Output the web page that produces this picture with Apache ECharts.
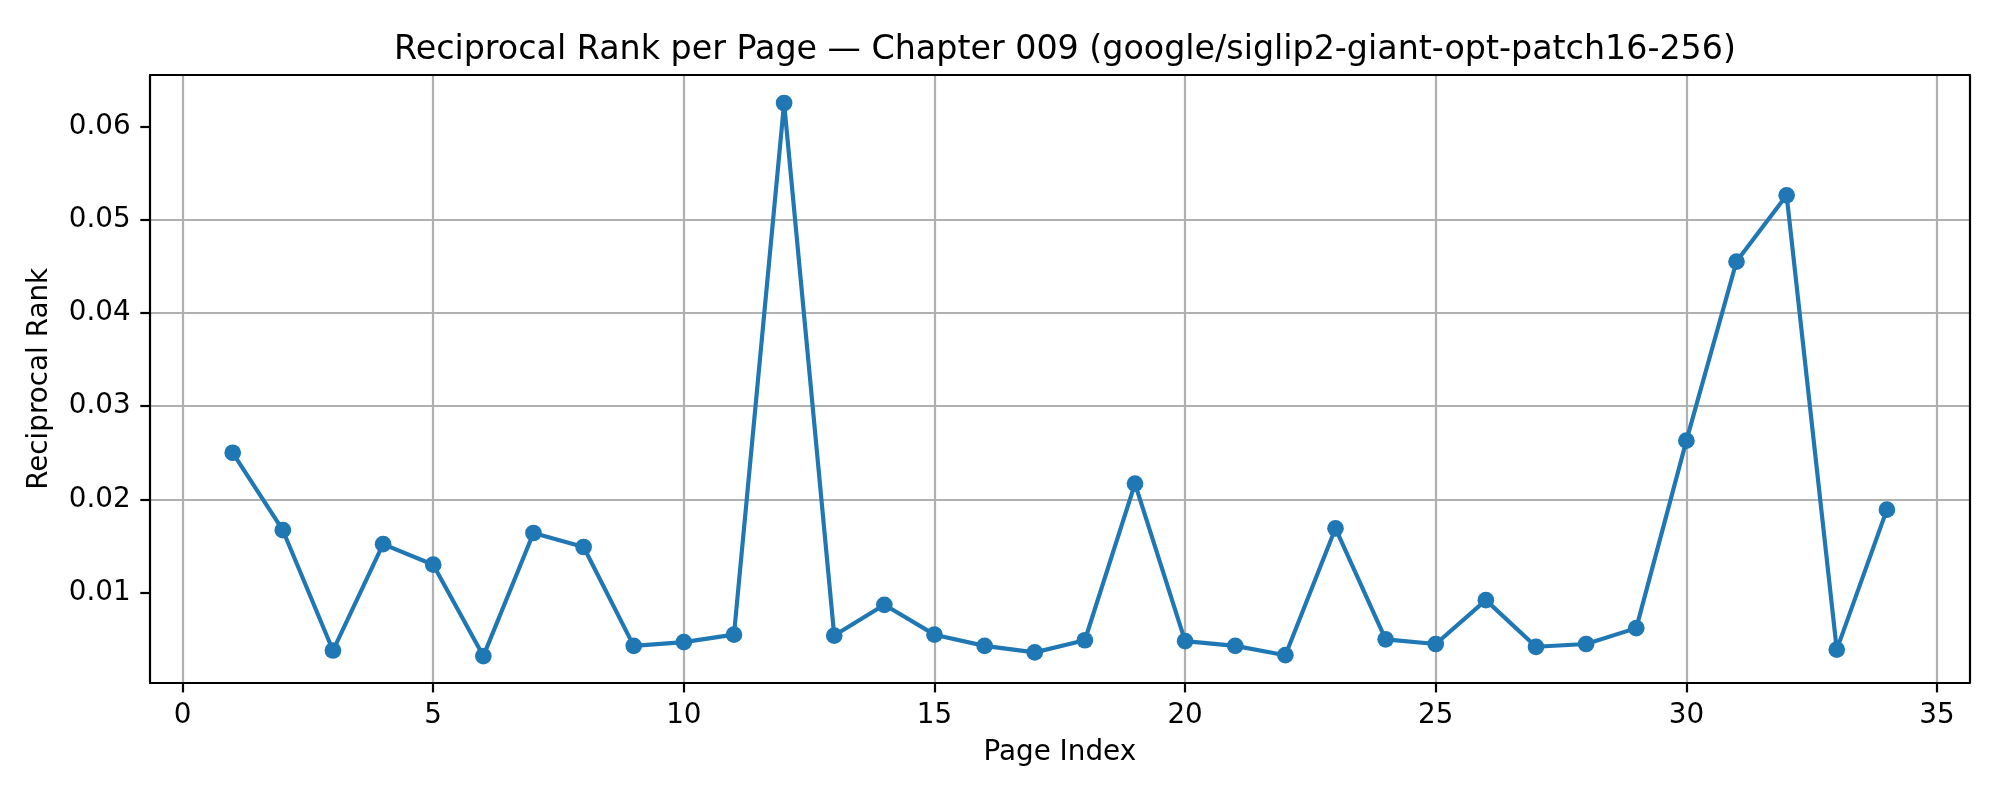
<!DOCTYPE html>
<html>
<head>
<meta charset="utf-8">
<script src="https://cdn.jsdelivr.net/npm/echarts@6/dist/echarts.min.js"></script>
<style>html,body{margin:0;padding:0;background:#fff}#c{width:2000px;height:800px}</style>
</head>
<body>
<div id="c"></div>
<script>
var pages = [1,2,3,4,5,6,7,8,9,10,11,12,13,14,15,16,17,18,19,20,21,22,23,24,25,26,27,28,29,30,31,32,33,34];
var reciprocalRank = [0.0250,0.0167,0.0038,0.0152,0.0130,0.0032,0.0164,0.0149,0.0043,0.0047,0.0055,0.0625,0.0054,0.0087,0.0055,0.0043,0.0036,0.0049,0.0217,0.0048,0.0043,0.0033,0.0169,0.0050,0.0045,0.0092,0.0042,0.0045,0.0062,0.0263,0.0455,0.0526,0.0039,0.0189];
var xTicks = [0,5,10,15,20,25,30,35];
var yTicks = [0.01,0.02,0.03,0.04,0.05,0.06];
var titleText = 'Reciprocal Rank per Page \u2014 Chapter 009 (google/siglip2-giant-opt-patch16-256)';

var FONT = 'DejaVu Sans';
var blue = '#1f77b4';
var chart = echarts.init(document.getElementById('c'), null, {renderer: 'canvas'});
var data = pages.map(function (p, i) { return [p, reciprocalRank[i]]; });

var frameAxis = {
  axisLine: {show: true, onZero: false, lineStyle: {color: '#000', width: 2.2}},
  axisTick: {show: false}, axisLabel: {show: false}, splitLine: {show: false}, z: 5
};

chart.setOption({
  animation: false,
  backgroundColor: '#fff',
  title: {
    text: titleText, left: 1060, top: 29, textAlign: 'center',
    textStyle: {fontFamily: FONT, fontSize: 33.3, fontWeight: 'normal', color: '#000'}
  },
  grid: {left: 150, right: 30.4, top: 75, bottom: 117.3, containLabel: false},
  xAxis: [{
    type: 'value', min: -0.65, max: 35.65, interval: 5, position: 'bottom', z: 1,
    name: 'Page Index', nameLocation: 'middle', nameGap: 56,
    nameTextStyle: {fontFamily: FONT, fontSize: 27.8, color: '#000'},
    axisLine: {show: true, onZero: false, lineStyle: {color: '#000', width: 2.2}},
    axisTick: {show: true, customValues: xTicks, length: 9.7, inside: false, lineStyle: {color: '#000', width: 2.2}},
    axisLabel: {customValues: xTicks, margin: 19.4, fontFamily: FONT, fontSize: 27.8, color: '#000'},
    splitLine: {show: true, showMinLine: true, showMaxLine: true, lineStyle: {color: '#b0b0b0', width: 2.2}}
  }, Object.assign({type: 'value', min: -0.65, max: 35.65, interval: 5, position: 'top'}, frameAxis)],
  yAxis: [{
    type: 'value', min: 0.00035, max: 0.0655, interval: 0.01, position: 'left', z: 2,
    name: 'Reciprocal Rank', nameLocation: 'middle', nameGap: 96,
    nameTextStyle: {fontFamily: FONT, fontSize: 27.8, color: '#000'},
    axisLine: {show: true, onZero: false, lineStyle: {color: '#000', width: 2.2}},
    axisTick: {show: true, customValues: yTicks, length: 9.7, inside: false, lineStyle: {color: '#000', width: 2.2}},
    axisLabel: {customValues: yTicks, margin: 19.4, fontFamily: FONT, fontSize: 27.8, color: '#000',
      formatter: function (v) { return v.toFixed(2); }},
    splitLine: {show: true, showMinLine: false, showMaxLine: false, lineStyle: {color: '#b0b0b0', width: 2.2}}
  }, Object.assign({type: 'value', min: 0.00035, max: 0.0655, interval: 0.01, position: 'right'}, frameAxis)],
  series: [{
    type: 'line', xAxisIndex: 0, yAxisIndex: 0, data: data,
    symbol: 'circle', symbolSize: 16.7, showAllSymbol: true,
    lineStyle: {color: blue, width: 4.17},
    itemStyle: {color: blue},
    z: 3
  }]
});
</script>
</body>
</html>
